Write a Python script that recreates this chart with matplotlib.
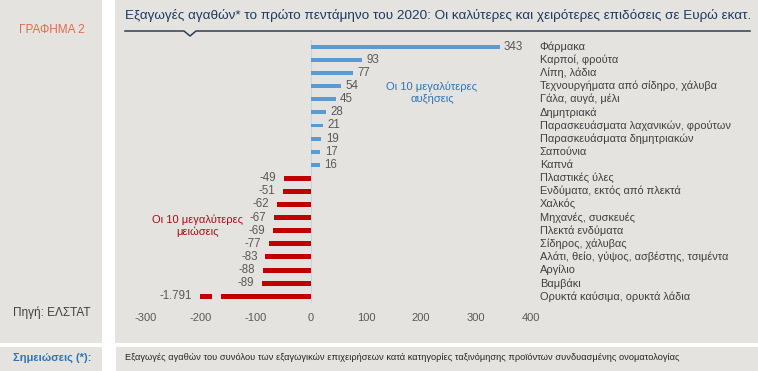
import matplotlib.pyplot as plt
from matplotlib.patches import Rectangle
from matplotlib.lines import Line2D

plt.rcParams['font.family'] = ['Liberation Sans', 'DejaVu Sans']

# data (million euro, change in exports Jan-May 2020)
pos_labels = ['Φάρμακα', 'Καρποί, φρούτα', 'Λίπη, λάδια',
              'Τεχνουργήματα από σίδηρο, χάλυβα', 'Γάλα, αυγά, μέλι',
              'Δημητριακά', 'Παρασκευάσματα λαχανικών, φρούτων',
              'Παρασκευάσματα δημητριακών', 'Σαπούνια', 'Καπνά']
pos_values = [343, 93, 77, 54, 45, 28, 21, 19, 17, 16]
neg_labels = ['Πλαστικές ύλες', 'Ενδύματα, εκτός από πλεκτά', 'Χαλκός',
              'Μηχανές, συσκευές', 'Πλεκτά ενδύματα', 'Σίδηρος, χάλυβας',
              'Αλάτι, θείο, γύψος, ασβέστης, τσιμέντα', 'Αργίλιο', 'Βαμβάκι',
              'Ορυκτά καύσιμα, ορυκτά λάδια']
neg_values = [-49, -51, -62, -67, -69, -77, -83, -88, -89, -1791]
xticks = [-300, -200, -100, 0, 100, 200, 300, 400]

bg = '#e4e3df'
blue = '#5b9bd5'
red = '#c00000'
grey_txt = '#595959'

W, H = 758, 371
fig = plt.figure(figsize=(W / 100, H / 100), dpi=100)
fig.patch.set_facecolor('white')


def px(x0, y0, w, h):
    # pixel box (top-left origin) -> figure fraction
    return [x0 / W, 1 - (y0 + h) / H, w / W, h / H]


# panels
for (x0, y0, w, h) in [(0, 0, 102, 343), (115, 0, 643, 343),
                       (0, 347, 102, 24), (116, 347, 642, 24)]:
    r = px(x0, y0, w, h)
    fig.patches.append(Rectangle((r[0], r[1]), r[2], r[3], transform=fig.transFigure,
                                 facecolor=bg, edgecolor='none', zorder=-10))

fig.text(52 / W, 1 - 30 / H, 'ΓΡΑΦΗΜΑ 2', color='#e06c4a', fontsize=8.5,
         ha='center', va='center')
fig.text(52 / W, 1 - 313 / H, 'Πηγή: ΕΛΣΤΑΤ', color='#404040', fontsize=8.5,
         ha='center', va='center')
fig.text(52 / W, 1 - 358 / H, 'Σημειώσεις (*):', color='#2e75b6', fontsize=8,
         fontweight='bold', ha='center', va='center')
fig.text(125 / W, 1 - 358 / H,
         'Εξαγωγές αγαθών του συνόλου των εξαγωγικών επιχειρήσεων κατά κατηγορίες '
         'ταξινόμησης προϊόντων συνδυασμένης ονοματολογίας',
         color='#262626', fontsize=6.7, ha='left', va='center')
fig.text(125 / W, 1 - 15 / H,
         'Εξαγωγές αγαθών* το πρώτο πεντάμηνο του 2020: Οι καλύτερες και '
         'χειρότερες επιδόσεις σε Ευρώ εκατ.',
         color='#1f3a5f', fontsize=9.7, ha='left', va='center')

# title underline with a small notch
lx = [125, 184, 190, 196, 750]
ly = [31, 31, 36, 31, 31]
fig.lines.append(Line2D([x / W for x in lx], [1 - y / H for y in ly],
                        transform=fig.transFigure, color='#2c3e55', lw=1.1))

# main axes: x=-300 at px 146, x=400 at px 531
ax = fig.add_axes(px(146, 40, 385, 263))
ax.set_facecolor('none')
ax.set_xlim(-300, 400)
labels = pos_labels + neg_labels
values = pos_values + neg_values
n = len(values)
ax.set_ylim(n - 0.5, -0.5)

floor = -202
shown = [max(v, floor) for v in values]
colors = [blue] * len(pos_values) + [red] * len(neg_values)
heights = [0.3] * len(pos_values) + [0.38] * len(neg_values)
ax.barh(range(n), shown, height=heights, color=colors, zorder=2)

# axis break on the truncated bar
for i, v in enumerate(values):
    if v < floor:
        ax.add_patch(Rectangle((-180, i - 0.35), 16, 0.7, facecolor=bg,
                               edgecolor='none', zorder=3))

ax.axvline(0, color='#c9d3dd', lw=0.8, zorder=1)

for i, (v, s) in enumerate(zip(values, shown)):
    txt = f'{v:,}'.replace(',', '.')
    if v >= 0:
        ax.text(s + 8, i, txt, ha='left', va='center', fontsize=8.3, color=grey_txt)
    else:
        ax.text(s - 14, i, txt, ha='right', va='center', fontsize=8.3, color=grey_txt)
    ax.text(416, i, labels[i], ha='left', va='center', fontsize=7.9,
            color='#404040', clip_on=False)

ax.text(220, 3.5, 'Οι 10 μεγαλύτερες\nαυξήσεις', color='#2e75b6', fontsize=8,
        ha='center', va='center', linespacing=1.2)
ax.text(-207, 13.6, 'Οι 10 μεγαλύτερες\nμειώσεις', color='#a50f15', fontsize=8,
        ha='center', va='center', linespacing=1.2)

ax.set_xticks(xticks)
ax.set_xticklabels([str(t) for t in xticks])
ax.tick_params(axis='x', length=0, labelsize=8, labelcolor=grey_txt, pad=7)
ax.set_yticks([])
for sp in ax.spines.values():
    sp.set_visible(False)

fig.savefig('out.png', dpi=100, facecolor=fig.get_facecolor())
